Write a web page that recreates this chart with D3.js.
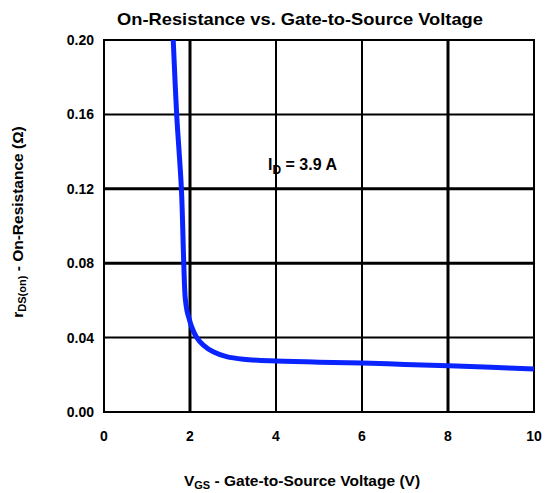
<!DOCTYPE html>
<html>
<head>
<meta charset="utf-8">
<script src="https://cdn.jsdelivr.net/npm/d3@7"></script>
<style>
  body { margin: 0; background: #fff; }
  text { font-family: "Liberation Sans", Arial, sans-serif; font-weight: bold; fill: #000; }
</style>
</head>
<body>
<div id="chart"></div>
<script>
// readings taken off the datasheet curve (ID = 3.9 A)
const vgs = [1.61, 1.69, 1.80, 1.855, 1.89, 1.93, 1.97, 2.04, 2.15, 2.31, 2.54, 2.85, 3.24, 3.86, 5.0, 6.0, 7.0, 8.0, 9.0, 10.0];
const rdsOn = [0.20, 0.16, 0.12, 0.08, 0.061, 0.0545, 0.051, 0.0457, 0.0403, 0.036, 0.0324, 0.0298, 0.0284, 0.0275, 0.0268, 0.0263, 0.0256, 0.0249, 0.0241, 0.0231];

const xTicks = [0, 2, 4, 6, 8, 10];
const yTicks = [0.00, 0.04, 0.08, 0.12, 0.16, 0.20];
const heavyX = [2, 8];          // darker vertical grid lines
const heavyY = [0.08, 0.12];    // darker horizontal grid lines

const width = 554, height = 493;
const margin = {top: 40, right: 20, bottom: 81, left: 104};

const svg = d3.select('#chart')
    .append('svg')
    .attr('width', width)
    .attr('height', height);

const x = d3.scaleLinear().domain([0, 10]).range([margin.left, width - margin.right]);
const y = d3.scaleLinear().domain([0, 0.20]).range([height - margin.bottom, margin.top]);

// grid
svg.append('g').selectAll('line')
    .data(xTicks.slice(1, -1)).enter()
    .append('line')
    .attr('x1', d => x(d)).attr('x2', d => x(d))
    .attr('y1', y(0)).attr('y2', y(0.20))
    .attr('stroke', '#000')
    .attr('stroke-width', d => heavyX.includes(d) ? 3 : 2);

svg.append('g').selectAll('line')
    .data(yTicks.slice(1, -1)).enter()
    .append('line')
    .attr('y1', d => y(d)).attr('y2', d => y(d))
    .attr('x1', x(0)).attr('x2', x(10))
    .attr('stroke', '#000')
    .attr('stroke-width', d => heavyY.includes(d) ? 3 : 2);

// frame
svg.append('rect')
    .attr('x', x(0)).attr('y', y(0.20))
    .attr('width', x(10) - x(0)).attr('height', y(0) - y(0.20))
    .attr('fill', 'none')
    .attr('stroke', '#000')
    .attr('stroke-width', 2);

// tick labels
svg.append('g').selectAll('text')
    .data(xTicks).enter()
    .append('text')
    .attr('x', d => x(d))
    .attr('y', y(0) + 29)
    .attr('text-anchor', 'middle')
    .style('font-size', '14px')
    .text(d => d);

svg.append('g').selectAll('text')
    .data(yTicks).enter()
    .append('text')
    .attr('x', x(0) - 10)
    .attr('y', d => y(d) + 5)
    .attr('text-anchor', 'end')
    .style('font-size', '14px')
    .text(d => d.toFixed(2));

// curve
const line = d3.line()
    .x(d => x(d[0]))
    .y(d => y(d[1]))
    .curve(d3.curveCatmullRom.alpha(0.5));

svg.append('path')
    .attr('d', line(vgs.map((v, i) => [v, rdsOn[i]])))
    .attr('fill', 'none')
    .attr('stroke', '#0a24ff')
    .attr('stroke-width', 5)
    .attr('stroke-linejoin', 'round');

// title
svg.append('text')
    .attr('x', 300).attr('y', 25)
    .attr('text-anchor', 'middle')
    .attr('textLength', 366)
    .attr('lengthAdjust', 'spacingAndGlyphs')
    .style('font-size', '17px')
    .text('On-Resistance vs. Gate-to-Source Voltage');

// annotation
const ann = svg.append('text')
    .attr('x', 268).attr('y', 170)
    .style('font-size', '16px');
ann.append('tspan').text('I');
ann.append('tspan').attr('dy', 4).style('font-size', '12px').text('D');
ann.append('tspan').attr('dy', -4).text(' = 3.9 A');

// x axis title
const xt = svg.append('text')
    .attr('x', 302).attr('y', 486)
    .attr('text-anchor', 'middle')
    .style('font-size', '15.5px');
xt.append('tspan').text('V');
xt.append('tspan').attr('dy', 3).style('font-size', '11px').text('GS');
xt.append('tspan').attr('dy', -3).text(' - Gate-to-Source Voltage (V)');

// y axis title
const yt = svg.append('text')
    .attr('transform', 'translate(23,' + 222 + ') rotate(-90)')
    .attr('text-anchor', 'middle')
    .style('font-size', '15.5px');
yt.append('tspan').text('r');
yt.append('tspan').attr('dy', 3).style('font-size', '11px').text('DS(on)');
yt.append('tspan').attr('dy', -3).text(' - On-Resistance (\u03A9)');
</script>
</body>
</html>
